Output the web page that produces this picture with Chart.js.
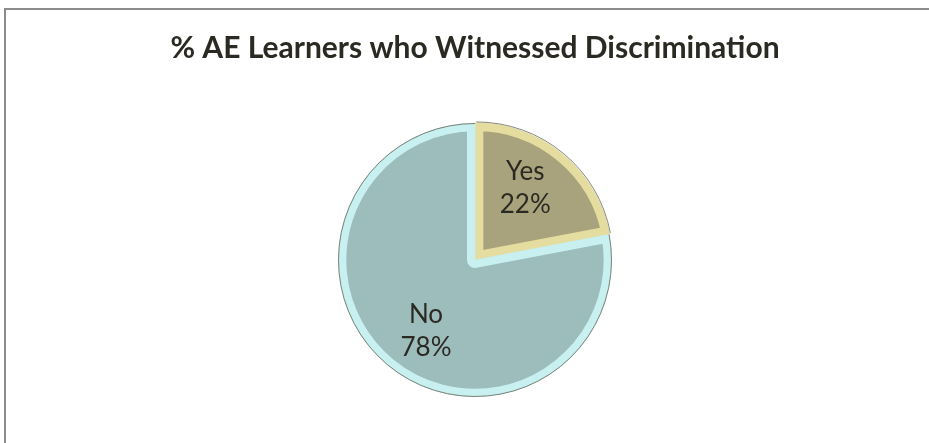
<!DOCTYPE html>
<html>
<head>
<meta charset="utf-8">
<script src="https://cdn.jsdelivr.net/npm/chart.js@4"></script>
<style>
    html, body {
        margin: 0;
        padding: 0;
        background: #ffffff;
        overflow: hidden;
    }
    .wrap {
        position: relative;
        width: 929px;
        height: 443px;
        overflow: hidden;
    }
    .line-top {
        position: absolute;
        left: 4px;
        top: 8px;
        width: 925px;
        height: 2px;
        background: #8c8c8c;
    }
    .line-left {
        position: absolute;
        left: 4px;
        top: 8px;
        width: 2px;
        height: 435px;
        background: #8c8c8c;
    }
    #pie {
        position: absolute;
        left: 0;
        top: 0;
    }
</style>
</head>
<body>
<div class="wrap">
    <div class="line-top"></div>
    <div class="line-left"></div>
    <canvas id="pie" width="929" height="480"></canvas>
</div>

<script>
const chartTitle = "% AE Learners who Witnessed Discrimination";
const categories = ["Yes", "No"];
const percentValues = [22, 78];

const fillColors = ["#a9a37d", "#9cbdbc"];
const bandColors = ["#e4dd9f", "#c8f0f0"];

// outline + "Yes / 22%" style labels, drawn from the arc elements
const sliceLabels = {
    id: "sliceLabels",
    afterDatasetsDraw(chart) {
        const ctx = chart.ctx;
        const meta = chart.getDatasetMeta(0);

        meta.data.forEach((arc, i) => {
            const p = arc.getProps(["x", "y", "startAngle", "endAngle", "outerRadius"], true);
            const offset = arc.options.offset || 0;
            const mid = (p.startAngle + p.endAngle) / 2;
            const cx = p.x + Math.cos(mid) * offset;
            const cy = p.y + Math.sin(mid) * offset;

            ctx.save();
            ctx.beginPath();
            ctx.arc(cx, cy, p.outerRadius - 0.5, p.startAngle, p.endAngle);
            ctx.strokeStyle = "rgba(95,95,80,0.75)";
            ctx.lineWidth = 1;
            ctx.stroke();
            ctx.restore();

            // labels sit a little counter-clockwise of the middle, like the original
            const a = mid - 5 * Math.PI / 180;
            const r = p.outerRadius * 0.63;
            const lx = cx + Math.cos(a) * r;
            const ly = cy + Math.sin(a) * r;

            ctx.save();
            ctx.fillStyle = "#2b2a22";
            ctx.font = "26px Lato";
            ctx.textAlign = "center";
            ctx.textBaseline = "middle";
            ctx.fillText(categories[i], lx, ly - 16);
            ctx.fillText(percentValues[i] + "%", lx, ly + 17);
            ctx.restore();
        });
    }
};

const ctx = document.getElementById("pie");

new Chart(ctx, {
    type: "pie",
    data: {
        labels: categories,
        datasets: [{
            data: percentValues,
            backgroundColor: fillColors,
            borderColor: bandColors,
            borderWidth: 8,
            borderAlign: "inner",
            offset: [2, 0]
        }]
    },
    options: {
        responsive: false,
        animation: false,
        devicePixelRatio: 1,
        events: [],
        radius: 137,
        layout: {
            padding: { left: 21, right: 0, top: 0, bottom: 36 }
        },
        plugins: {
            legend: { display: false },
            tooltip: { enabled: false },
            title: {
                display: true,
                text: chartTitle,
                color: "#2b2a22",
                font: { family: "Lato", size: 30, weight: "bold" },
                padding: { top: 30, bottom: 10 }
            }
        }
    },
    plugins: [sliceLabels]
});
</script>
</body>
</html>
